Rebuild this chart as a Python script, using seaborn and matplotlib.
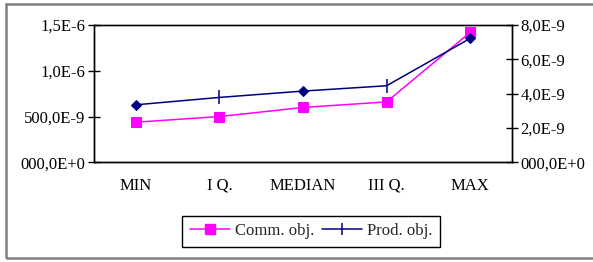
import matplotlib
matplotlib.use("Agg")
import matplotlib.pyplot as plt
import seaborn as sns
import pandas as pd
from matplotlib.lines import Line2D
from matplotlib.patches import Rectangle
from matplotlib.ticker import FixedLocator, FixedFormatter

# —— 数据 ——
categories = ["MIN", "I Q.", "MEDIAN", "III Q.", "MAX"]
comm_obj = [438e-9, 500e-9, 599e-9, 660e-9, 1.42e-6]      # 左轴
prod_obj = [3.35e-9, 3.78e-9, 4.15e-9, 4.46e-9, 7.22e-9]  # 右轴

left_ticks = [0, 500e-9, 1.0e-6, 1.5e-6]
left_labels = ["000,0E+0", "500,0E-9", "1,0E-6", "1,5E-6"]
right_ticks = [0, 2e-9, 4e-9, 6e-9, 8e-9]
right_labels = ["000,0E+0", "2,0E-9", "4,0E-9", "6,0E-9", "8,0E-9"]

MAGENTA = "#FF00FF"
NAVY = "#000080"
FS = 12

sns.set_theme(style="white")
plt.rcParams["font.family"] = ["Liberation Serif", "DejaVu Serif"]

df = pd.DataFrame({"cat": range(len(categories)), "comm": comm_obj, "prod": prod_obj})

fig = plt.figure(figsize=(5.93, 2.62), dpi=100)
ax = fig.add_axes([0.1585, 0.3805, 0.7049, 0.5241])
ax2 = ax.twinx()

sns.lineplot(data=df, x="cat", y="comm", ax=ax, color=MAGENTA, lw=1.1,
             marker="s", markersize=7.5, markeredgecolor=MAGENTA)
sns.lineplot(data=df, x="cat", y="prod", ax=ax2, color=NAVY, lw=1.1,
             marker="D", markersize=5.5, markeredgecolor=NAVY, markevery=[0, 2, 4])
ax2.plot(df["cat"], df["prod"], ls="none", marker="|", markersize=10,
         markeredgewidth=1.1, color=NAVY, markevery=[1, 3])

ax.set_xlim(-0.5, len(categories) - 0.5)
ax.set_ylim(left_ticks[0], left_ticks[-1])
ax2.set_ylim(right_ticks[0], right_ticks[-1])

ax.xaxis.set_major_locator(FixedLocator(range(len(categories))))
ax.xaxis.set_major_formatter(FixedFormatter(categories))
ax.xaxis.set_minor_locator(FixedLocator([i + 0.5 for i in range(len(categories) - 1)]))
ax.tick_params(axis="x", which="major", length=0, pad=11, labelsize=FS, colors="black")
ax.tick_params(axis="x", which="minor", length=8, width=1, direction="inout", colors="black")

ax.yaxis.set_major_locator(FixedLocator(left_ticks))
ax.yaxis.set_major_formatter(FixedFormatter(left_labels))
ax.tick_params(axis="y", length=8, width=1, direction="inout", labelsize=FS, pad=2,
               left=True, colors="black")
ax2.yaxis.set_major_locator(FixedLocator(right_ticks))
ax2.yaxis.set_major_formatter(FixedFormatter(right_labels))
ax2.tick_params(axis="y", length=8, width=1, direction="inout", labelsize=FS, pad=2,
                right=True, colors="black")

for a in (ax, ax2):
    a.set_xlabel("")
    a.set_ylabel("")
    a.grid(False)
    for s in a.spines.values():
        s.set_color("black")
        s.set_linewidth(1)
ax.spines["top"].set_color("#404040")

# 外框
fig.patches.append(Rectangle((6 / 593, 4 / 262), 1.2, 1 - 8 / 262, transform=fig.transFigure,
                             fill=False, edgecolor="#808080", lw=1.8))

handles = [
    Line2D([], [], color=MAGENTA, marker="s", markersize=7.5, lw=1.1),
    Line2D([], [], color=NAVY, marker="|", markersize=9, markeredgewidth=1.1, lw=1.1),
]
leg = fig.legend(handles, ["Comm. obj.", "Prod. obj."], loc="center",
                 bbox_to_anchor=(0.525, 0.118), ncol=2, fontsize=FS,
                 frameon=True, fancybox=False, edgecolor="black", framealpha=1,
                 handlelength=2.4, handletextpad=0.3, columnspacing=0.5,
                 borderpad=0.45, borderaxespad=0.2)
leg.get_frame().set_linewidth(1)

fig.savefig("out.png", dpi=100)
